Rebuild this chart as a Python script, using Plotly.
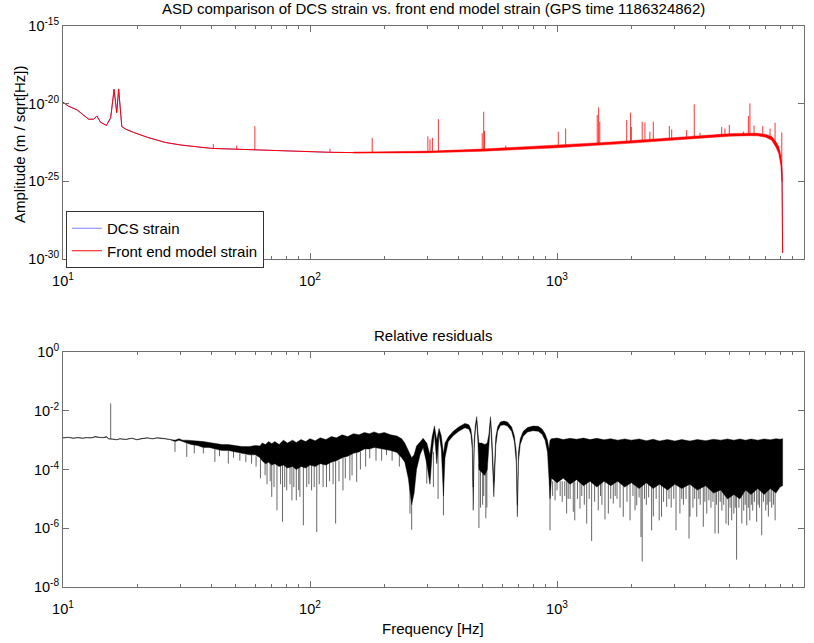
import numpy as np
import plotly.graph_objects as go

# ---------------- top panel: ASD (log10 of amplitude, m/sqrt(Hz)) ----------------
asd_freq = [10, 10.5, 11.4, 12.0, 12.7, 13.3, 13.7, 14.2, 15.0, 15.6, 16.1, 16.5, 16.8, 17.3, 18,
            19.3, 22, 26, 30, 35, 40, 50, 60, 70, 91, 120, 150, 200, 270, 300, 400, 500, 600,
            800, 1000, 1500, 2000, 2600, 3500, 4500, 6000, 6500, 7000, 7400, 7700, 7900, 8050,
            8120, 8150, 8192]
asd_log = [-19.9, -20.15, -20.4, -20.7, -21.0, -21.0, -20.8, -21.2, -21.4, -20.9, -19.08, -20.58,
           -19.05, -21.48, -21.65, -21.85, -22.17, -22.5, -22.66, -22.78, -22.88, -22.93, -22.98,
           -23.02, -23.1, -23.13, -23.15, -23.15, -23.13, -23.1, -23.05, -22.98, -22.93, -22.84,
           -22.75, -22.58, -22.45, -22.34, -22.17, -22.03, -21.97, -21.98, -22.06, -22.22, -22.6,
           -22.95, -23.6, -24.0, -24.7, -29.6]

# thickness of the dense high-frequency trace (upper / lower envelope)
band_freq = [150, 300, 500, 1000, 1500, 2000, 3000, 4000, 5000, 6000, 6500, 7000, 7400, 7700,
             7900, 8050, 8150]
band_hi = [-23.12, -23.06, -22.92, -22.68, -22.51, -22.38, -22.18, -22.02, -21.93, -21.9, -21.91,
           -21.98, -22.12, -22.45, -22.75, -23.3, -24.3]
band_lo = [-23.18, -23.16, -23.06, -22.84, -22.67, -22.54, -22.34, -22.18, -22.09, -22.06, -22.07,
           -22.16, -22.35, -22.8, -23.2, -23.9, -25.0]

# narrow spectral lines: frequency, base level, peak level (log10)
line_freq = [40.6, 50.5, 59.8, 120.5, 178.6, 300, 306, 313, 331, 498, 505, 509, 620, 1012, 1084,
             1455, 1474, 1490, 1915, 1986, 2000, 2213, 2270, 2378, 2454, 2850, 2913, 3349, 3595,
             3793, 4642, 4786, 4986, 5680, 5954, 6040, 6277, 6810, 7285, 7635, 8128]
line_base = [-22.85, -22.92, -22.97, -23.13, -23.15, -23.1, -23.1, -23.1, -23.09, -22.98, -22.98,
             -22.98, -22.93, -22.75, -22.72, -22.6, -22.6, -22.6, -22.47, -22.45, -22.45, -22.41,
             -22.4, -22.38, -22.37, -22.3, -22.29, -22.2, -22.16, -22.13, -22.04, -22.03, -22.02,
             -21.98, -21.97, -21.97, -21.97, -22.03, -22.18, -22.55, -24.0]
line_peak = [-22.6, -22.7, -21.45, -22.9, -22.2, -22.1, -22.3, -22.2, -21.0, -21.9, -20.52, -21.75,
             -22.7, -21.8, -21.6, -20.73, -20.24, -21.16, -21.05, -20.58, -21.5, -21.16, -21.2,
             -21.8, -21.16, -21.44, -21.65, -21.7, -20.04, -21.87, -21.5, -21.6, -21.37, -21.8,
             -20.8, -19.98, -21.4, -21.44, -21.6, -21.23, -21.85]

# ---------------- bottom panel: relative residuals (log10) ----------------
res_freq = [10, 10.5, 11, 11.5, 12, 12.5, 13, 13.5, 14, 14.5, 15.0, 15.3, 15.9, 16.5, 17, 18, 19,
            19.9, 21, 22, 23, 24, 25, 26, 27, 28.4, 29.5, 30.5, 31.7, 33, 35, 37, 39, 41.2, 44,
            46.7, 50, 53, 57, 60, 62.8, 64, 66, 68, 70, 72, 75, 78, 81, 85, 88, 92, 96, 100, 105,
            110, 116, 122, 128, 135, 142, 150, 158, 166, 174, 182, 190, 200, 212, 225, 235, 242,
            250, 258, 264, 270, 279, 287, 297, 306, 312, 319, 326, 333, 340, 347, 352, 363, 380,
            400, 424, 440, 448, 454, 458, 462, 467, 473, 478, 483, 495, 510, 522, 530, 538, 545,
            555, 565, 575, 590, 610, 630, 655, 672, 684, 691, 698, 710, 730, 760, 800, 840, 870,
            895, 915, 928, 937, 950, 1000, 1060, 1130, 1200, 1280, 1360, 1450, 1550, 1650, 1760,
            1880, 2000, 2150, 2300, 2450, 2600, 2800, 3000, 3200, 3450, 3700, 4000, 4300, 4600,
            4900, 5200, 5500, 5800, 6100, 6500, 6900, 7300, 7700, 8000, 8192]
res_hi = [-2.92, -2.9, -2.93, -2.91, -2.93, -2.91, -2.92, -2.88, -2.9, -2.91, -2.88, -2.95, -2.96,
          -2.98, -2.95, -2.97, -2.93, -2.98, -2.94, -2.92, -2.95, -2.92, -2.93, -2.95, -2.96,
          -3.0, -2.95, -3.0, -3.0, -3.02, -3.03, -3.05, -3.08, -3.12, -3.15, -3.15, -3.2, -3.22,
          -3.22, -3.18, -3.2, -3.1, -3.15, -3.05, -3.12, -3.05, -3.15, -3.0, -3.1, -3.0, -3.08,
          -2.98, -3.05, -2.95, -3.02, -2.92, -2.98, -2.88, -2.92, -2.82, -2.88, -2.78, -2.82,
          -2.74, -2.78, -2.72, -2.78, -2.74, -2.82, -2.86, -2.95, -3.1, -3.35, -3.6, -3.5, -3.2,
          -3.06, -2.94, -3.1, -3.5, -2.9, -2.52, -3.0, -2.6, -2.85, -3.46, -3.1, -2.89, -2.7,
          -2.55, -2.43, -2.48, -2.62, -3.0, -4.6, -3.0, -2.5, -2.2, -2.7, -3.1, -3.1, -3.15, -3.1,
          -2.8, -2.2, -2.9, -4.4, -2.9, -2.55, -2.38, -2.35, -2.38, -2.55, -2.85, -3.4, -5.2,
          -3.4, -2.95, -2.7, -2.57, -2.52, -2.53, -2.62, -2.78, -3.0, -3.3, -3.0, -2.95, -2.93,
          -2.98, -2.94, -2.97, -2.93, -2.98, -2.94, -2.99, -2.95, -3.0, -2.96, -3.0, -2.96,
          -3.02, -2.97, -3.03, -2.98, -3.03, -2.98, -3.03, -2.98, -3.02, -2.97, -3.0, -2.96,
          -3.0, -2.96, -3.0, -2.96, -3.0, -2.96, -2.99, -2.95, -2.97, -2.95]
res_lo = [-2.93, -2.91, -2.94, -2.92, -2.94, -2.92, -2.93, -2.89, -2.91, -2.92, -2.9, -2.96,
          -2.97, -2.99, -2.96, -2.98, -2.94, -2.99, -2.95, -2.93, -2.96, -2.93, -2.94, -2.96,
          -2.98, -3.05, -3.0, -3.06, -3.1, -3.15, -3.18, -3.25, -3.25, -3.3, -3.35, -3.35, -3.4,
          -3.45, -3.5, -3.5, -3.6, -3.7, -3.8, -3.75, -3.85, -3.8, -3.9, -3.85, -3.95, -3.9,
          -4.0, -3.9, -3.95, -3.85, -3.9, -3.8, -3.85, -3.75, -3.7, -3.6, -3.55, -3.45, -3.4,
          -3.3, -3.3, -3.25, -3.28, -3.3, -3.35, -3.42, -3.6, -3.75, -4.3, -5.2, -4.8, -4.0, -3.5,
          -3.25, -3.8, -4.5, -3.5, -2.75, -3.8, -2.8, -3.3, -4.9, -3.6, -3.05, -2.85, -2.7,
          -2.58, -2.63, -2.8, -3.3, -5.39, -3.3, -2.7, -2.35, -3.0, -4.0, -4.1, -4.2, -4.0, -3.2,
          -2.35, -3.3, -4.93, -3.2, -2.7, -2.5, -2.48, -2.52, -2.7, -3.05, -3.75, -5.61, -3.75,
          -3.15, -2.87, -2.72, -2.68, -2.7, -2.8, -3.0, -3.4, -4.3, -5.0, -4.3, -4.45, -4.3,
          -4.5, -4.35, -4.55, -4.4, -4.6, -4.4, -4.55, -4.4, -4.6, -4.45, -4.65, -4.45, -4.65,
          -4.5, -4.7, -4.5, -4.65, -4.5, -4.7, -4.55, -4.8, -4.7, -5.0, -4.85, -5.0, -4.7, -4.85,
          -4.65, -4.85, -4.65, -4.8, -4.6, -4.55]

# isolated excursions of the residual: frequency, start level, end level (log10)
spk_freq = [15.6, 28.4, 31.7, 34, 37, 41.2, 43, 46.7, 49, 52, 55, 58, 60.5, 63, 65.8, 67, 69, 70,
            71.5, 73.5, 76, 77.4, 79, 80.5, 83, 84.5, 86, 88, 90, 91, 94, 97, 99, 101.5, 104,
            106.5, 109, 113, 116.6, 120, 124, 127, 131, 136, 139, 145, 148, 154.5, 160, 168,
            174.5, 185, 195, 204, 215, 230, 254, 258, 297, 316, 330, 347, 483, 490, 500, 505, 515,
            520, 937, 960, 982, 1000, 1030, 1050, 1075, 1094, 1110, 1130, 1164, 1180, 1210, 1239,
            1260, 1290, 1319, 1350, 1381, 1420, 1469, 1500, 1520, 1564, 1614, 1650, 1690, 1720,
            1750, 1800, 1855, 1920, 1976, 2030, 2070, 2103, 2150, 2188, 2213, 2260, 2300, 2350,
            2416, 2455, 2520, 2593, 2650, 2700, 2780, 2840, 2900, 2970, 3033, 3145, 3200, 3250,
            3330, 3424, 3454, 3550, 3610, 3679, 3750, 3800, 3911, 3970, 4040, 4120, 4200, 4280,
            4363, 4420, 4501, 4580, 4650, 4730, 4834, 4941, 5020, 5096, 5200, 5270, 5335, 5450,
            5600, 5700, 5780, 5864, 5950, 6034, 6120, 6200, 6300, 6430, 6520, 6600, 6742, 6850,
            7000, 7090, 7174, 7280, 7400, 7520, 7640, 7720, 7800, 7900, 8000, 8192]
spk_from = [-2.95, -3.05, -3.1, -3.15, -3.25, -3.3, -3.3, -3.35, -3.35, -3.45, -3.5, -3.5, -3.55,
            -3.6, -3.6, -3.7, -3.7, -3.8, -3.8, -3.8, -3.8, -3.8, -3.8, -3.9, -3.9, -3.9, -3.9,
            -3.9, -3.9, -3.9, -3.9, -3.9, -3.85, -3.85, -3.85, -3.85, -3.8, -3.8, -3.8, -3.75,
            -3.75, -3.7, -3.7, -3.6, -3.6, -3.5, -3.45, -3.4, -3.4, -3.3, -3.3, -3.25, -3.28,
            -3.3, -3.35, -3.45, -4.0, -4.5, -3.7, -3.4, -3.0, -4.5, -3.8, -3.9, -4.0, -4.0, -4.0,
            -3.9] + [-4.4] * 104 + [-2.97]
spk_to = [-1.75, -3.4, -3.57, -3.45, -3.45, -3.74, -3.55, -3.8, -3.6, -3.7, -3.75, -3.8, -3.9,
          -4.3, -4.19, -4.5, -4.4, -4.93, -4.6, -5.39, -4.5, -5.78, -4.6, -4.71, -4.5, -5.05,
          -4.6, -5.05, -4.7, -4.93, -5.9, -4.6, -4.5, -4.71, -4.6, -6.13, -4.5, -4.6, -4.6, -4.4,
          -4.5, -5.84, -4.4, -4.71, -4.3, -4.37, -4.2, -4.42, -4.0, -3.9, -3.62, -3.7, -3.7,
          -3.51, -3.7, -3.9, -5.5, -6.05, -4.48, -4.6, -5.0, -5.56, -5.99, -5.3, -5.2, -4.9,
          -5.66, -5.3, -6.07, -4.9, -5.05, -4.71, -4.9, -5.1, -4.9, -5.5, -5.0, -5.0, -5.44,
          -5.73, -5.0, -5.33, -4.9, -5.2, -5.84, -5.0, -6.43, -5.1, -5.39, -4.9, -5.2, -5.7,
          -5.5, -5.0, -5.16, -4.9, -5.0, -5.3, -5.61, -5.1, -5.73, -4.9, -5.39, -5.22, -4.95,
          -6.3, -7.13, -5.0, -5.2, -4.95, -6.07, -5.6, -5.0, -5.73, -5.61, -5.1, -5.27, -5.0,
          -5.3, -5.0, -6.07, -5.5, -5.0, -5.2, -5.0, -6.35, -5.6, -5.3, -5.0, -5.61, -5.0, -5.2,
          -5.95, -5.1, -5.5, -5.05, -5.3, -5.1, -6.18, -5.2, -6.18, -5.1, -5.4, -5.2, -5.84,
          -5.9, -5.3, -5.73, -5.5, -5.3, -7.07, -5.3, -5.84, -5.4, -5.2, -5.9, -5.3, -5.73, -5.2,
          -5.4, -5.1, -5.78, -5.2, -5.3, -6.24, -5.1, -5.4, -5.2, -5.6, -5.1, -5.3, -5.2, -5.73,
          -5.1, -5.3, -5.2, -7.13, -2.07]

# ---------------- helpers ----------------
def p(v):
    return 10.0 ** np.asarray(v, dtype=float)

def segments(freqs, a, b):
    xs, ys = [], []
    for f, y0, y1 in zip(freqs, a, b):
        xs += [f, f, None]
        ys += [10.0 ** y0, 10.0 ** y1, None]
    return xs, ys

FONT = "Liberation Sans"
AX_COL = "#6e6e6e"

fig = go.Figure()

# top panel
fig.add_trace(go.Scatter(x=asd_freq, y=p(asd_log), mode="lines", name="DCS strain",
                         line=dict(color="#0000ff", width=0.5), xaxis="x", yaxis="y"))
fig.add_trace(go.Scatter(x=asd_freq, y=p(asd_log), mode="lines", name="Front end model strain",
                         line=dict(color="#ff0000", width=1), xaxis="x", yaxis="y"))
fig.add_trace(go.Scatter(x=band_freq + band_freq[::-1], y=p(band_hi + band_lo[::-1]),
                         mode="lines", fill="toself", fillcolor="#ff0000",
                         line=dict(color="#ff0000", width=0.5), showlegend=False,
                         xaxis="x", yaxis="y", hoverinfo="skip"))
sx, sy = segments(line_freq, line_base, line_peak)
fig.add_trace(go.Scatter(x=sx, y=sy, mode="lines", line=dict(color="rgba(255,0,0,0.8)", width=1),
                         showlegend=False, xaxis="x", yaxis="y", hoverinfo="skip"))

# bottom panel
rx, ry = segments(spk_freq, spk_from, spk_to)
fig.add_trace(go.Scatter(x=rx, y=ry, mode="lines", line=dict(color="rgba(0,0,0,0.6)", width=1),
                         showlegend=False, xaxis="x2", yaxis="y2", hoverinfo="skip"))
fig.add_trace(go.Scatter(x=res_freq + res_freq[::-1], y=p(res_hi + res_lo[::-1]), mode="lines",
                         fill="toself", fillcolor="#000000",
                         line=dict(color="rgba(0,0,0,0.85)", width=0.5),
                         showlegend=False, xaxis="x2", yaxis="y2", hoverinfo="skip"))

x_ticks = [10, 100, 1000, 10000]
x_text = ["10<sup>1</sup>", "10<sup>2</sup>", "10<sup>3</sup>", "10<sup>4</sup>"]
x_minor = [k * 10 ** d for d in (1, 2, 3) for k in range(2, 10)]
y1_ticks = [1e-30, 1e-25, 1e-20, 1e-15]
y1_text = ["10<sup>-30</sup>", "10<sup>-25</sup>", "10<sup>-20</sup>", "10<sup>-15</sup>"]
y2_ticks = [1e-8, 1e-6, 1e-4, 1e-2, 1e0]
y2_text = ["10<sup>-8</sup>", "10<sup>-6</sup>", "10<sup>-4</sup>", "10<sup>-2</sup>", "10<sup>0</sup>"]

W, H = 814, 643
xdom = [63 / W, 804 / W]
y1dom = [1 - 259 / H, 1 - 26 / H]
y2dom = [1 - 587 / H, 1 - 352 / H]

common_x = dict(type="log", range=[1, 4], domain=xdom, tickvals=x_ticks, ticktext=x_text,
                ticks="inside", ticklen=6, tickcolor=AX_COL, mirror="allticks", showline=True,
                linecolor=AX_COL, linewidth=1, showgrid=False, zeroline=False, automargin=False,
                ticklabelstandoff=9,
                tickfont=dict(family=FONT, size=14.5, color="black"),
                minor=dict(tickvals=x_minor, ticks="inside", ticklen=3, tickcolor=AX_COL,
                           showgrid=False))
common_y = dict(type="log", ticks="inside", ticklen=6, tickcolor=AX_COL, mirror="allticks",
                showline=True, linecolor=AX_COL, linewidth=1, showgrid=False, zeroline=False,
                automargin=False, tickfont=dict(family=FONT, size=14.5, color="black"))

fig.update_layout(
    width=W, height=H, margin=dict(l=0, r=0, t=0, b=0),
    paper_bgcolor="white", plot_bgcolor="white",
    font=dict(family=FONT, size=14, color="black"),
    xaxis=dict(common_x, anchor="y"),
    yaxis=dict(common_y, domain=y1dom, range=[-30, -15], tickvals=y1_ticks, ticktext=y1_text,
               anchor="x"),
    xaxis2=dict(common_x, anchor="y2"),
    yaxis2=dict(common_y, domain=y2dom, range=[-8, 0], tickvals=y2_ticks, ticktext=y2_text,
                anchor="x2"),
    showlegend=True,
    legend=dict(x=66 / W, y=1 - 211 / H, xanchor="left", yanchor="top", bgcolor="white",
                bordercolor="#333333", borderwidth=1, font=dict(family=FONT, size=15),
                itemwidth=30, tracegroupgap=0),
    annotations=[
        dict(text="ASD comparison of DCS strain vs. front end model strain (GPS time 1186324862)",
             x=(xdom[0] + xdom[1]) / 2, y=1 - 9 / H, xref="paper", yref="paper",
             showarrow=False, xanchor="center", yanchor="middle", font=dict(size=15)),
        dict(text="Relative residuals", x=(xdom[0] + xdom[1]) / 2, y=1 - 335 / H, xref="paper",
             yref="paper", showarrow=False, xanchor="center", yanchor="middle",
             font=dict(size=15)),
        dict(text="Frequency [Hz]", x=(xdom[0] + xdom[1]) / 2, y=1 - 628 / H, xref="paper",
             yref="paper", showarrow=False, xanchor="center", yanchor="middle",
             font=dict(size=15)),
        dict(text="Amplitude (m / sqrt[Hz])", x=19 / W, y=1 - 144 / H, xref="paper",
             yref="paper", showarrow=False, xanchor="center", yanchor="middle", textangle=-90,
             font=dict(size=15)),
    ],
)

fig.write_html("out.html")
